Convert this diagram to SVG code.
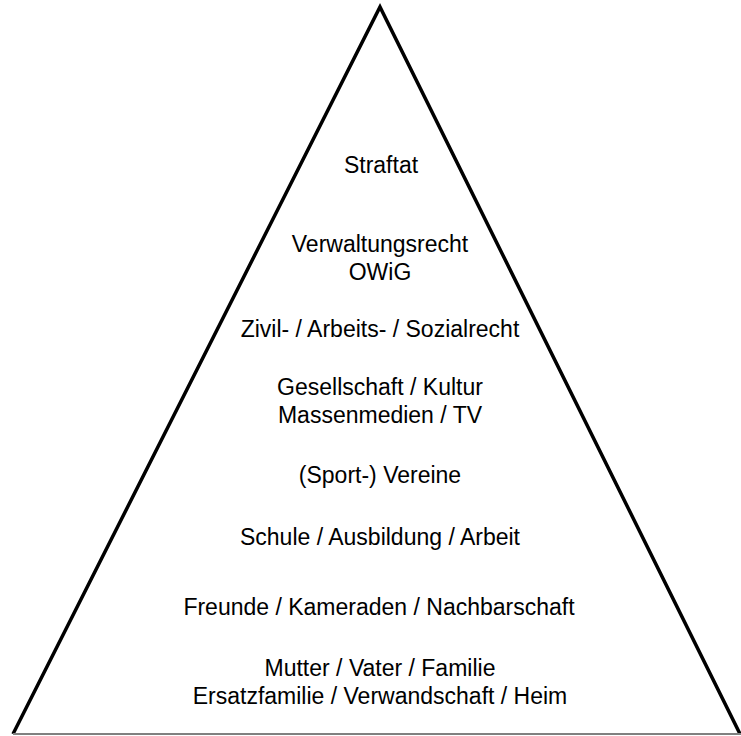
<svg xmlns="http://www.w3.org/2000/svg" width="741" height="736" viewBox="0 0 741 736">
<style>
.lbl{font-family:"Liberation Sans",Arial,sans-serif;font-size:23px;fill:#000;text-anchor:middle}
</style>
<rect width="741" height="736" fill="#fff"/>
<g id="pyramid">
<polyline points="13,734 380,7 740,734" fill="none" stroke="#000" stroke-width="3.5" stroke-linejoin="miter"/>
<line x1="13" y1="734" x2="741" y2="734" stroke="#808080" stroke-width="2"/>
</g>
<g id="level-straftat"><text class="lbl" x="381" y="173">Straftat</text></g>
<g id="level-verwaltung"><text class="lbl" x="380" y="252">Verwaltungsrecht</text><text class="lbl" x="380" y="280">OWiG</text></g>
<g id="level-recht"><text class="lbl" x="380" y="337">Zivil- / Arbeits- / Sozialrecht</text></g>
<g id="level-gesellschaft"><text class="lbl" x="380" y="395">Gesellschaft / Kultur</text><text class="lbl" x="380" y="423">Massenmedien / TV</text></g>
<g id="level-vereine"><text class="lbl" x="380" y="483">(Sport-) Vereine</text></g>
<g id="level-schule"><text class="lbl" x="380" y="545">Schule / Ausbildung / Arbeit</text></g>
<g id="level-freunde"><text class="lbl" x="379" y="615">Freunde / Kameraden / Nachbarschaft</text></g>
<g id="level-familie"><text class="lbl" x="380" y="676">Mutter / Vater / Familie</text><text class="lbl" x="380" y="704">Ersatzfamilie / Verwandschaft / Heim</text></g>
</svg>
